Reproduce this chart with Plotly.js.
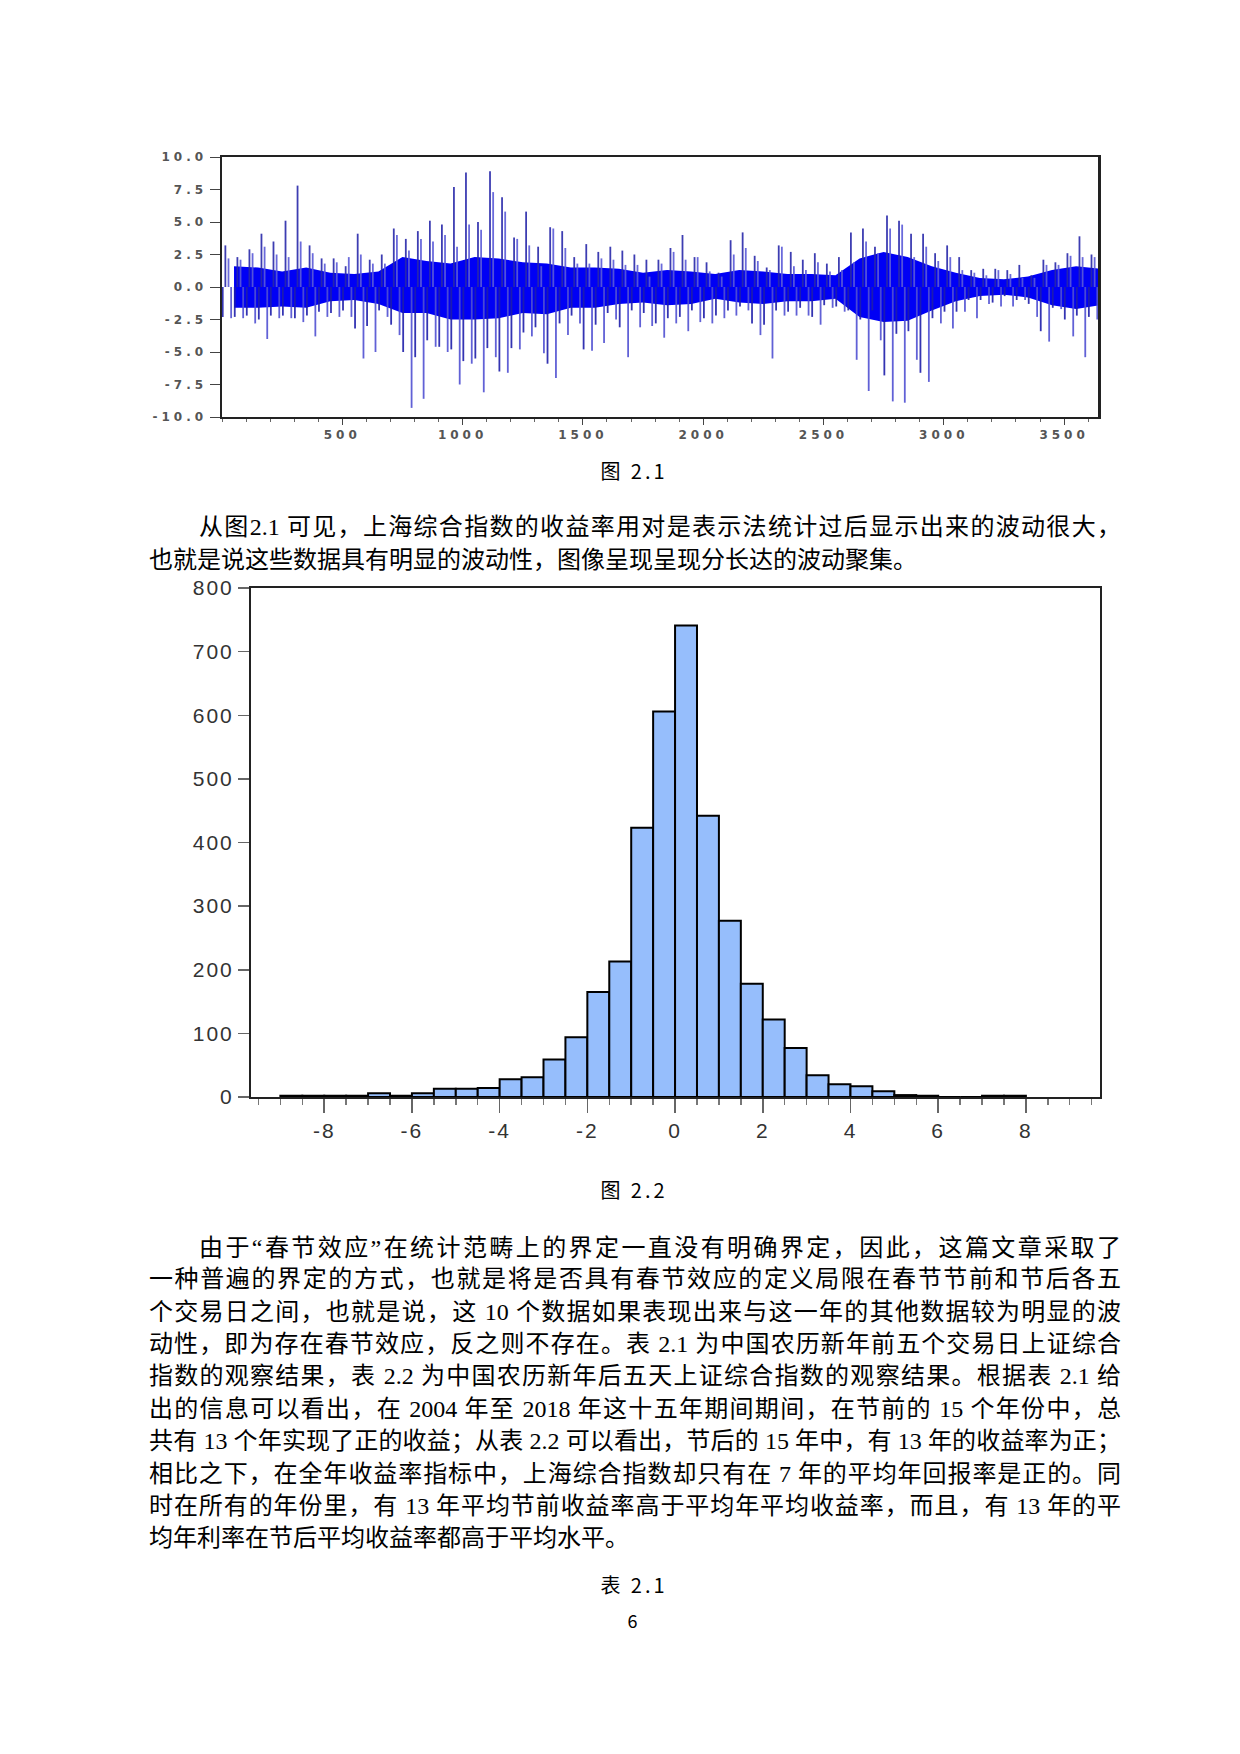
<!DOCTYPE html>
<html><head><meta charset="utf-8">
<script src="https://cdn.plot.ly/plotly-3.0.1.min.js"></script>
<style>
html,body{margin:0;padding:0;background:#fff;}
body{width:1240px;height:1754px;position:relative;overflow:hidden;}
#c1{position:absolute;left:0;top:0;width:1240px;height:460px;}
#c2{position:absolute;left:0;top:540px;width:1240px;height:620px;}
.ln{position:absolute;left:149px;width:972px;height:32px;line-height:32px;font-size:24px;font-family:"Liberation Serif","Noto Sans CJK SC",serif;white-space:nowrap;text-align:justify;text-align-last:justify;color:#000;}
.ind{left:199px;width:922px;}
.lst{text-align-last:left;}
.cap{position:absolute;left:14px;width:1240px;text-align:center;height:32px;line-height:32px;font-size:20px;font-family:"Noto Sans CJK SC",sans-serif;color:#000;letter-spacing:3px;}
#c1 .xtick text, #c1 .ytick text{letter-spacing:4px;}
#c2 .xtick text, #c2 .ytick text{letter-spacing:2px;}
</style></head>
<body>
<div id="c1"></div>
<div id="c2"></div>

<div class="cap" style="top:455px;">图 2.1</div>
<div class="ln ind" style="top:511px;">从图2.1 可见，上海综合指数的收益率用对是表示法统计过后显示出来的波动很大，</div>
<div class="ln lst" style="top:544px;">也就是说这些数据具有明显的波动性，图像呈现呈现分长达的波动聚集。</div>

<div class="cap" style="top:1174px;">图 2.2</div>
<div class="ln ind" style="top:1232px;">由于“春节效应”在统计范畴上的界定一直没有明确界定，因此，这篇文章采取了</div>
<div class="ln" style="top:1263px;">一种普遍的界定的方式，也就是将是否具有春节效应的定义局限在春节节前和节后各五</div>
<div class="ln" style="top:1296px;">个交易日之间，也就是说，这 10 个数据如果表现出来与这一年的其他数据较为明显的波</div>
<div class="ln" style="top:1328px;">动性，即为存在春节效应，反之则不存在。表 2.1 为中国农历新年前五个交易日上证综合</div>
<div class="ln" style="top:1360px;">指数的观察结果，表 2.2 为中国农历新年后五天上证综合指数的观察结果。根据表 2.1 给</div>
<div class="ln" style="top:1393px;">出的信息可以看出，在 2004 年至 2018 年这十五年期间期间，在节前的 15 个年份中，总</div>
<div class="ln" style="top:1425px;">共有 13 个年实现了正的收益；从表 2.2 可以看出，节后的 15 年中，有 13 年的收益率为正；</div>
<div class="ln" style="top:1458px;">相比之下，在全年收益率指标中，上海综合指数却只有在 7 年的平均年回报率是正的。同</div>
<div class="ln" style="top:1490px;">时在所有的年份里，有 13 年平均节前收益率高于平均年平均收益率，而且，有 13 年的平</div>
<div class="ln lst" style="top:1522px;">均年利率在节后平均收益率都高于平均水平。</div>
<div class="cap" style="top:1569px;">表 2.1</div>
<div class="cap" style="top:1604px;font-size:18px;">6</div>

<script>
// ---------- Figure 2.1 : daily log returns ----------
// largest up / down move read in each 50-observation segment
const spikeHigh = [3.2,2.3,2.9,4.1,3.5,5.1,7.8,3.2,2.2,2.2,
  1.6,4.1,2.1,2.5,4.5,3.7,4.3,5.1,4.8,7.7,
  8.8,5.0,8.9,6.9,3.8,5.8,3.1,4.6,4.3,2.3,
  3.3,2.7,3.1,2.8,2.5,2.1,2.1,3.0,4.0,2.3,
  1.9,1.1,3.6,4.2,2.4,1.5,3.2,2.7,2.1,2.6,
  1.8,2.3,4.2,4.5,3.1,5.5,5.1,4.1,4.1,2.6,
  3.2,2.3,1.3,1.4,1.4,1.3,1.7,0.9,2.1,1.9,
  2.6,3.9,2.5];
const spikeLow = [-2.4,-2.4,-2.8,-4.0,-2.4,-2.4,-2.7,-3.8,-2.3,-2.3,
  -2.3,-5.5,-5.0,-2.3,-3.7,-9.3,-8.6,-4.6,-5.0,-7.5,
  -5.9,-8.1,-5.4,-6.6,-4.8,-3.8,-5.1,-7.0,-3.7,-2.8,
  -4.9,-4.3,-2.5,-5.4,-3.1,-3.0,-3.9,-2.8,-3.4,-2.7,
  -2.8,-2.4,-2.2,-1.8,-3.7,-5.5,-2.2,-2.2,-2.2,-2.9,
  -1.6,-1.9,-5.6,-8.0,-4.1,-8.8,-8.9,-5.6,-7.3,-2.8,
  -3.2,-1.9,-2.4,-1.3,-1.5,-1.5,-1.0,-2.3,-4.2,-1.7,
  -3.8,-5.4,-2.5];
// second-largest up / down move read in each 50-observation segment
const spike2High = [2.2,2.1,2.6,3.1,2.5,2.3,3.5,2.6,1.8,1.9,
  2.3,2.5,1.8,1.8,4.0,2.8,3.7,3.5,4.0,3.1,
  4.8,4.4,7.3,5.8,3.7,3.2,1.6,4.5,3.0,1.8,
  1.8,2.2,2.1,1.7,1.7,0.8,1.8,2.7,2.1,2.3,
  1.2,0.8,2.5,3.0,2.0,1.3,3.1,1.6,1.3,1.9,
  1.2,1.3,1.9,3.5,2.6,4.5,4.8,2.3,3.1,2.0,
  2.3,1.3,1.1,0.9,1.3,1.0,0.7,0.7,1.7,1.7,
  2.4,2.3,2.3];
const spike2Low = [-2.3,-2.3,-2.2,-2.5,-2.2,-2.2,-2.4,-2.2,-1.9,-2.0,
  -1.8,-3.2,-3.0,-1.8,-2.9,-5.0,-5.4,-4.1,-4.6,-4.8,
  -5.7,-5.5,-4.7,-6.5,-4.7,-3.5,-3.1,-5.9,-2.8,-2.2,
  -4.8,-2.9,-2.0,-3.1,-1.8,-2.0,-2.8,-2.4,-2.3,-1.8,
  -2.4,-2.2,-1.8,-1.5,-2.8,-2.9,-1.8,-1.9,-1.6,-2.3,
  -1.4,-1.5,-1.8,-2.5,-1.8,-6.8,-3.6,-3.4,-6.6,-2.4,
  -1.9,-1.9,-1.0,-1.0,-1.2,-0.7,-1.0,-1.3,-3.4,-1.6,
  -2.5,-2.2,-2.3];
// dense core band, per 100 observations
const coreHigh = [1.6,1.5,1.2,1.5,1.1,1.0,1.2,2.3,2.0,1.8,
  2.3,2.2,1.9,1.8,1.5,1.5,1.4,1.1,1.3,1.2,
  1.0,1.3,1.2,1.0,1.0,0.9,2.2,2.7,2.3,1.6,
  1.1,0.7,0.6,0.8,1.3,1.6,1.4];
const coreLow = [-1.6,-1.6,-1.5,-1.6,-1.1,-1.0,-1.3,-2.0,-2.0,-2.5,
  -2.5,-2.4,-2.0,-2.1,-1.6,-1.6,-1.3,-1.2,-1.4,-1.3,
  -0.9,-1.2,-1.3,-1.1,-1.1,-0.9,-2.3,-2.7,-2.6,-1.8,
  -1.1,-0.7,-0.6,-0.8,-1.4,-1.7,-1.4];
const nObs = 3641;
const x1TickVals = [500,1000,1500,2000,2500,3000,3500];
const x1TickText = ['500','1000','1500','2000','2500','3000','3500'];
const y1TickVals = [-10,-7.5,-5,-2.5,0,2.5,5,7.5,10];
const y1TickText = ['-10.0','-7.5','-5.0','-2.5','0.0','2.5','5.0','7.5','10.0'];

// ---------- Figure 2.2 : histogram ----------
const binCenters = [-8.75,-8.25,-7.75,-7.25,-6.75,-6.25,-5.75,-5.25,-4.75,-4.25,
  -3.75,-3.25,-2.75,-2.25,-1.75,-1.25,-0.75,-0.25,0.25,0.75,
  1.25,1.75,2.25,2.75,3.25,3.75,4.25,4.75,5.25,5.75,
  6.25,6.75,7.25,7.75];
const binCounts = [2,2,2,2,6,2,6,13,13,14,
  28,31,59,94,165,213,423,606,741,442,
  277,178,122,77,34,20,17,9,3,2,
  0,0,2,2];
const x2TickVals = [-8,-6,-4,-2,0,2,4,6,8];
const x2TickText = ['-8','-6','-4','-2','0','2','4','6','8'];
const y2TickVals = [0,100,200,300,400,500,600,700,800];
const y2TickText = ['0','100','200','300','400','500','600','700','800'];

// vertical spikes inside each 50-obs segment
const seg = 50;
function spikes(vals, off) {
  const x = [], y = [];
  vals.forEach((v, i) => { const p = i*seg + off; x.push(p, p, null); y.push(0, v, null); });
  return {x, y};
}
const s1 = spikes(spikeHigh, 14), s2 = spikes(spikeLow, 38);
const s3 = spikes(spike2High, 27), s4 = spikes(spike2Low, 3);
const bx = coreHigh.map((v, i) => i*100 + 50);

function line(s, c, w) {
  return {x:s.x, y:s.y, type:'scatter', mode:'lines', line:{color:c, width:w}, hoverinfo:'skip'};
}
const tf1 = {family:'DejaVu Sans', size:12, color:'#555', weight:'bold'};
Plotly.newPlot('c1', [
  {x:bx, y:coreLow, type:'scatter', mode:'lines', line:{width:0, color:'rgb(0,0,245)'}, hoverinfo:'skip'},
  {x:bx, y:coreHigh, type:'scatter', mode:'lines', fill:'tonexty', fillcolor:'rgb(0,0,245)', line:{width:0, color:'rgb(0,0,245)'}, hoverinfo:'skip'},
  line(s3, 'rgba(90,90,215,0.9)', 1.8),
  line(s4, 'rgba(30,30,170,0.9)', 1.8),
  line(s1, 'rgba(40,40,170,0.9)', 1.8),
  line(s2, 'rgba(80,80,210,0.9)', 1.8)
], {
  width:1240, height:460, margin:{l:222, r:142, t:157, b:43},
  paper_bgcolor:'rgba(0,0,0,0)', plot_bgcolor:'#fff', showlegend:false,
  xaxis:{range:[0,nObs], tickmode:'array', tickvals:x1TickVals, ticktext:x1TickText,
    ticks:'outside', ticklen:6, tickwidth:1, tickcolor:'#444',
    minor:{tickmode:'linear', tick0:0, dtick:100, ticks:'outside', ticklen:3, tickcolor:'#666', tickwidth:1, showgrid:false},
    showline:true, linewidth:2, linecolor:'#222', mirror:true, showgrid:false, zeroline:false, tickfont:tf1},
  yaxis:{range:[-10,10], tickmode:'array', tickvals:y1TickVals, ticktext:y1TickText,
    ticks:'outside', ticklen:10, tickwidth:1, tickcolor:'#444',
    showline:true, linewidth:2.5, linecolor:'#222', mirror:true, showgrid:false, zeroline:false, tickfont:tf1}
}, {staticPlot:true, displayModeBar:false});

const tf2 = {family:'Liberation Sans', size:21, color:'#333'};
Plotly.newPlot('c2', [
  {x:binCenters, y:binCounts, type:'bar', width:0.5,
   marker:{color:'rgb(150,190,252)', line:{color:'#000', width:2}}, hoverinfo:'skip'}
], {
  width:1240, height:620, margin:{l:251, r:140, t:48, b:63},
  paper_bgcolor:'rgba(0,0,0,0)', plot_bgcolor:'#fff', showlegend:false, bargap:0,
  xaxis:{range:[-9.67,9.69], tickmode:'array', tickvals:x2TickVals, ticktext:x2TickText,
    ticks:'outside', ticklen:14, tickwidth:1.5, tickcolor:'#666',
    minor:{tickmode:'linear', tick0:0, dtick:0.5, ticks:'outside', ticklen:6, tickcolor:'#777', tickwidth:1.5, showgrid:false},
    showline:true, linewidth:2, linecolor:'#222', mirror:true, showgrid:false, zeroline:false, tickfont:tf2},
  yaxis:{range:[0,800], tickmode:'array', tickvals:y2TickVals, ticktext:y2TickText,
    ticks:'outside', ticklen:11, tickwidth:1.5, tickcolor:'#666',
    showline:true, linewidth:2, linecolor:'#222', mirror:true, showgrid:false, zeroline:false, tickfont:tf2}
}, {staticPlot:true, displayModeBar:false});
</script>
</body></html>
